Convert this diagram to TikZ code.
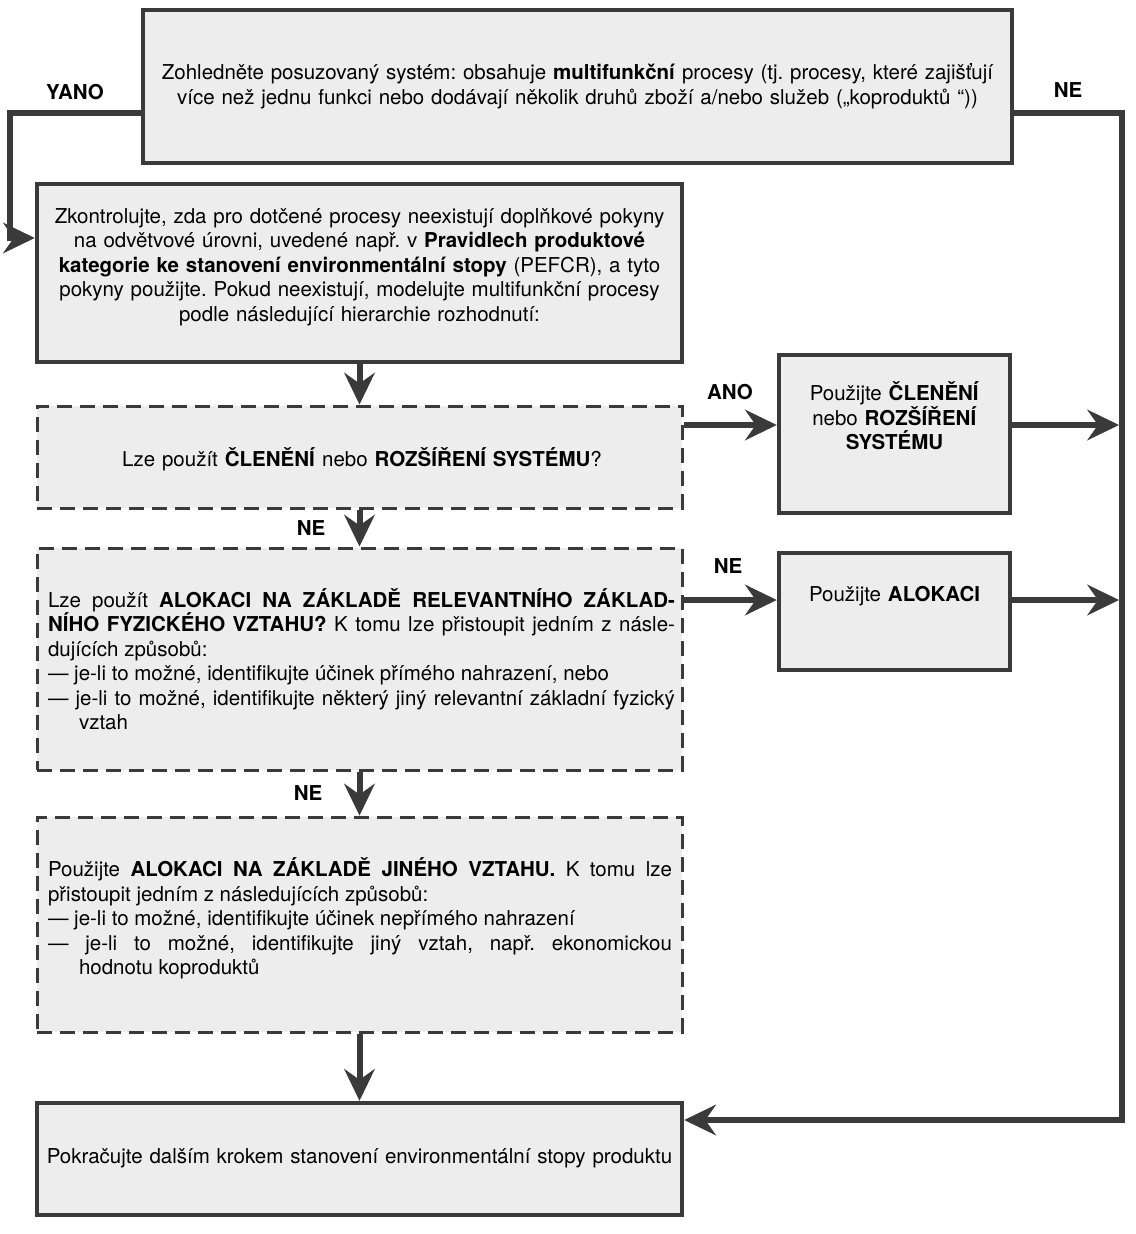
\documentclass[tikz,border=0pt]{standalone}
\usepackage{fontspec}
\setmainfont{TeX Gyre Heros}
\usetikzlibrary{arrows.meta}
\definecolor{ink}{HTML}{3A3A3A}
\definecolor{boxfill}{HTML}{EDEDED}
\frenchspacing
\begin{document}
\begin{tikzpicture}[x=1pt,y=-1pt,
  every node/.style={font=\fontsize{20.5}{24.5}\selectfont, text=black, inner sep=0pt},
  solidbox/.style={draw=ink, line width=4.5pt, fill=boxfill, rectangle},
  dashbox/.style={draw=ink, line width=3pt, dash pattern=on 15pt off 8pt, fill=boxfill, rectangle},
  conn/.style={draw=ink, line width=6pt, -{Stealth[length=32pt,width=31pt,inset=11pt,line width=1pt]}},
  lbl/.style={font=\fontsize{20.5}{24.5}\selectfont\bfseries},
  txt/.style={align=center},
  jtxt/.style={align=justify},
]
\useasboundingbox (0,0) rectangle (1135,1234);
\fill[white] (0,0) rectangle (1135,1234);

% boxes
\node[solidbox, minimum width=869pt, minimum height=153pt] (b1) at (577.5,86.5) {};
\node[solidbox, minimum width=645pt, minimum height=178pt] (b2) at (359.5,273) {};
\node[dashbox, minimum width=645pt, minimum height=102pt] (b3) at (359.5,457) {};
\node[dashbox, minimum width=645pt, minimum height=222pt] (b4) at (359.5,659) {};
\node[dashbox, minimum width=645pt, minimum height=215pt] (b5) at (359.5,924.5) {};
\node[solidbox, minimum width=645pt, minimum height=112pt] (b6) at (359.5,1159) {};
\node[solidbox, minimum width=231pt, minimum height=158pt] (bA) at (894.5,434) {};
\node[solidbox, minimum width=231pt, minimum height=117pt] (bB) at (894.5,611.5) {};

% texts
\node[txt, text width=860pt] (t1) at (577.5,86) {Zohledněte posuzovaný systém: obsahuje \textbf{multifunkční} procesy (tj. procesy, které zajišťují\\
více než jednu funkci nebo dodávají několik druhů zboží a/nebo služeb („koproduktů “))};

\node[txt, text width=640pt] (t2) at (359.5,267) {Zkontrolujte, zda pro dotčené procesy neexistují doplňkové pokyny\\
na odvětvové úrovni, uvedené např. v \textbf{Pravidlech produktové}\\
\textbf{kategorie ke stanovení environmentální stopy} (PEFCR), a tyto\\
pokyny použijte. Pokud neexistují, modelujte multifunkční procesy\\
podle následující hierarchie rozhodnutí:};

\node[txt, text width=640pt] (t3) at (362,459) {Lze použít \textbf{ČLENĚNÍ} nebo \textbf{ROZŠÍŘENÍ SYSTÉMU}?};

\node[jtxt, text width=627pt] (t4) at (361.5,659) {\parindent=0pt\tolerance=10000\hyphenpenalty=10000
Lze použít \textbf{ALOKACI NA ZÁKLADĚ RELEVANTNÍHO ZÁKLAD-}\linebreak
\textbf{NÍHO FYZICKÉHO VZTAHU?} K tomu lze přistoupit jedním z násle-\linebreak
dujících způsobů:\par
—\ je-li to možné, identifikujte účinek přímého nahrazení, nebo\par
—\ je-li to možné, identifikujte některý jiný relevantní základní fyzický\linebreak
\hspace*{31pt}vztah};

\node[jtxt, text width=624pt] (t5) at (360,918.5) {\parindent=0pt\tolerance=10000\hyphenpenalty=10000
Použijte \textbf{ALOKACI NA ZÁKLADĚ JINÉHO VZTAHU.} K tomu lze\linebreak
přistoupit jedním z následujících způsobů:\par
—\ je-li to možné, identifikujte účinek nepřímého nahrazení\par
—\ je-li to možné, identifikujte jiný vztah, např. ekonomickou\linebreak
\hspace*{31pt}hodnotu koproduktů};

\node[txt, text width=640pt] (t6) at (359.5,1158) {Pokračujte dalším krokem stanovení environmentální stopy produktu};

\node[txt, text width=225pt] (tA) at (894.5,416) {Použijte \textbf{ČLENĚNÍ}\\nebo \textbf{ROZŠÍŘENÍ}\\\textbf{SYSTÉMU}};
\node[txt, text width=225pt] (tB) at (894.5,596) {Použijte \textbf{ALOKACI}};

% labels
\node[lbl] (lyano) at (75,92) {YANO};
\node[lbl] (lne1) at (1068,90) {NE};
\node[lbl] (lano) at (730,392) {ANO};
\node[lbl] (lne2) at (728,566) {NE};
\node[lbl] (lne3) at (311,528) {NE};
\node[lbl] (lne4) at (308,793) {NE};

% connector corners
\coordinate (yl1) at (10,113);
\coordinate (yl2) at (10,238);
\coordinate (nr1) at (1122,113);
\coordinate (nr2) at (1122,1120);
\coordinate (rA) at (1119,425);
\coordinate (rB) at (1119,600);

% connectors
\draw[conn] (b1.west |- yl1) -- (yl1) -- (yl2) -- (b2.west |- yl2);
\draw[conn] (b1.east |- nr1) -- (nr1) -- (nr2) -- (b6.east |- nr2);
\draw[conn] (b2.south) -- (b3.north);
\draw[conn] (b3.south) -- (b4.north);
\draw[conn] (b4.south) -- (b5.north);
\draw[conn] (b5.south) -- (b6.north);
\draw[conn] (b3.east |- rA) -- (bA.west |- rA);
\draw[conn] (bA.east |- rA) -- (rA);
\draw[conn] (b4.east |- rB) -- (bB.west |- rB);
\draw[conn] (bB.east |- rB) -- (rB);
\end{tikzpicture}
\end{document}
